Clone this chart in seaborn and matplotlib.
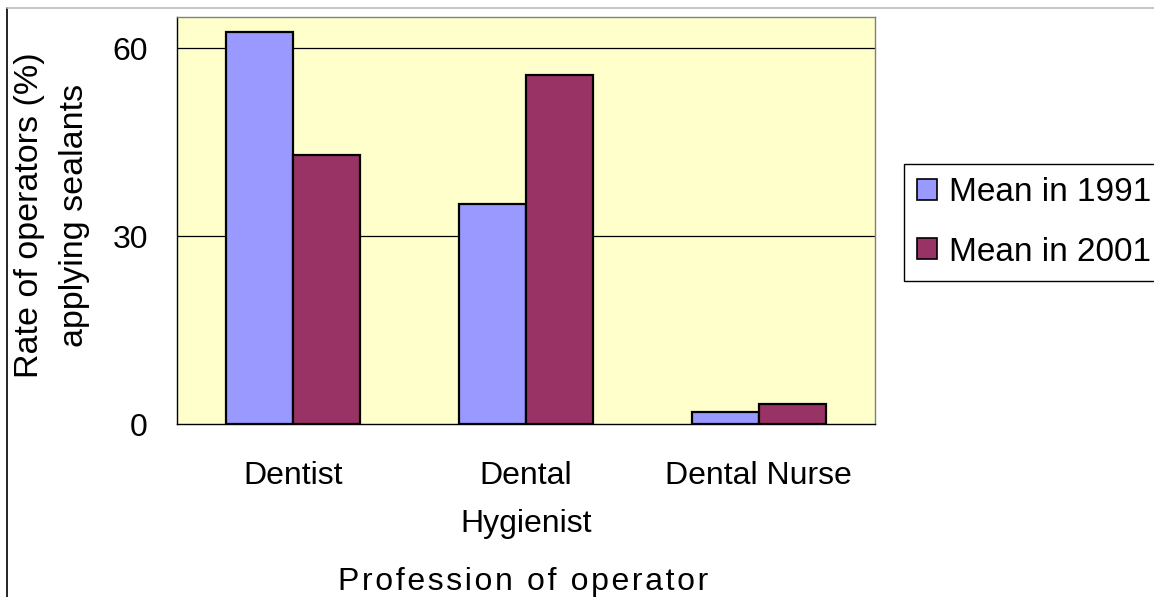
import matplotlib
matplotlib.use("Agg")
import matplotlib.pyplot as plt
from matplotlib.lines import Line2D
from matplotlib.patches import Patch
import seaborn as sns
import pandas as pd

# values
professions = ["Dentist", "Dental\nHygienist", "Dental Nurse"]
mean_1991 = [62.6, 35.2, 1.9]
mean_2001 = [42.9, 55.8, 3.2]
series = ["Mean in 1991", "Mean in 2001"]
yticks = [0, 30, 60]

C1991 = "#9999FF"
C2001 = "#993366"
PLOT_BG = "#FFFFCC"

df = pd.DataFrame({
    "profession": professions * 2,
    "rate": mean_1991 + mean_2001,
    "series": [series[0]] * 3 + [series[1]] * 3,
})

sns.set_style("white")
plt.rcParams["font.family"] = ["Liberation Sans", "DejaVu Sans"]
plt.rcParams["text.color"] = "black"
plt.rcParams["xtick.color"] = "black"
plt.rcParams["ytick.color"] = "black"

fig = plt.figure(figsize=(11.54, 5.97), dpi=100)
ax = fig.add_axes([177 / 1154, 1 - 424 / 597, 698 / 1154, 407 / 597])
ax.set_facecolor(PLOT_BG)

sns.barplot(data=df, x="profession", y="rate", hue="series",
            palette=[C1991, C2001], width=0.576, edgecolor="black",
            linewidth=1.6, saturation=1, ax=ax, legend=False, zorder=3)

ax.set_xlim(-0.5, 2.5)
ax.set_ylim(0, 65)
ax.set_yticks(yticks)
ax.set_yticklabels([str(v) for v in yticks], fontsize=23)
for y in yticks[1:]:
    ax.axhline(y, color="black", lw=0.9, zorder=1)

# category boundaries carry the ticks, labels sit at the centres
ax.set_xticks([-0.5, 0.5, 1.5, 2.5])
ax.set_xticklabels([])
ax.set_xticks([0, 1, 2], minor=True)
ax.set_xticklabels(professions, minor=True, fontsize=23, linespacing=1.75)
ax.tick_params(axis="x", which="major", length=10, width=0.9, color="black", direction="out")
ax.tick_params(axis="x", which="minor", length=0, pad=27)
ax.tick_params(axis="y", length=10, width=0.9, color="black", direction="out", pad=11)

ax.set_xlabel("")
ax.set_ylabel("")
ax.spines["left"].set_color("black")
ax.spines["bottom"].set_color("black")
ax.spines["top"].set_color("#808080")
ax.spines["right"].set_color("#808080")
for s in ax.spines.values():
    s.set_linewidth(1.0)

# the x title in the reference is letter-spaced
xtitle = "\u200a".join("Profession of operator")
fig.text(523 / 1154, 1 - 582 / 597, xtitle, ha="center", va="center", fontsize=23)
fig.text(52 / 1154, 1 - 215 / 597, "Rate of operators (%)\napplying sealants",
         ha="center", va="center", rotation=90, fontsize=24.5, linespacing=1.6)

handles = [Patch(facecolor=C1991, edgecolor="black", lw=1.2),
           Patch(facecolor=C2001, edgecolor="black", lw=1.2)]
fig.legend(handles, series, loc="upper left", bbox_to_anchor=(904 / 1154, 1 - 164 / 597),
           fontsize=24, frameon=True, fancybox=False, edgecolor="black",
           handlelength=0.6, handleheight=0.6, handletextpad=0.35,
           borderpad=0.4, borderaxespad=0, labelspacing=0.85, framealpha=1)

# outer chart border
fig.add_artist(Line2D([7 / 1154, 7 / 1154], [0, 1 - 8 / 597], color="black", lw=1.2))
fig.add_artist(Line2D([7 / 1154, 1], [1 - 8 / 597, 1 - 8 / 597], color="#BBBBBB", lw=1.2))

fig.savefig("out.png", dpi=100)
